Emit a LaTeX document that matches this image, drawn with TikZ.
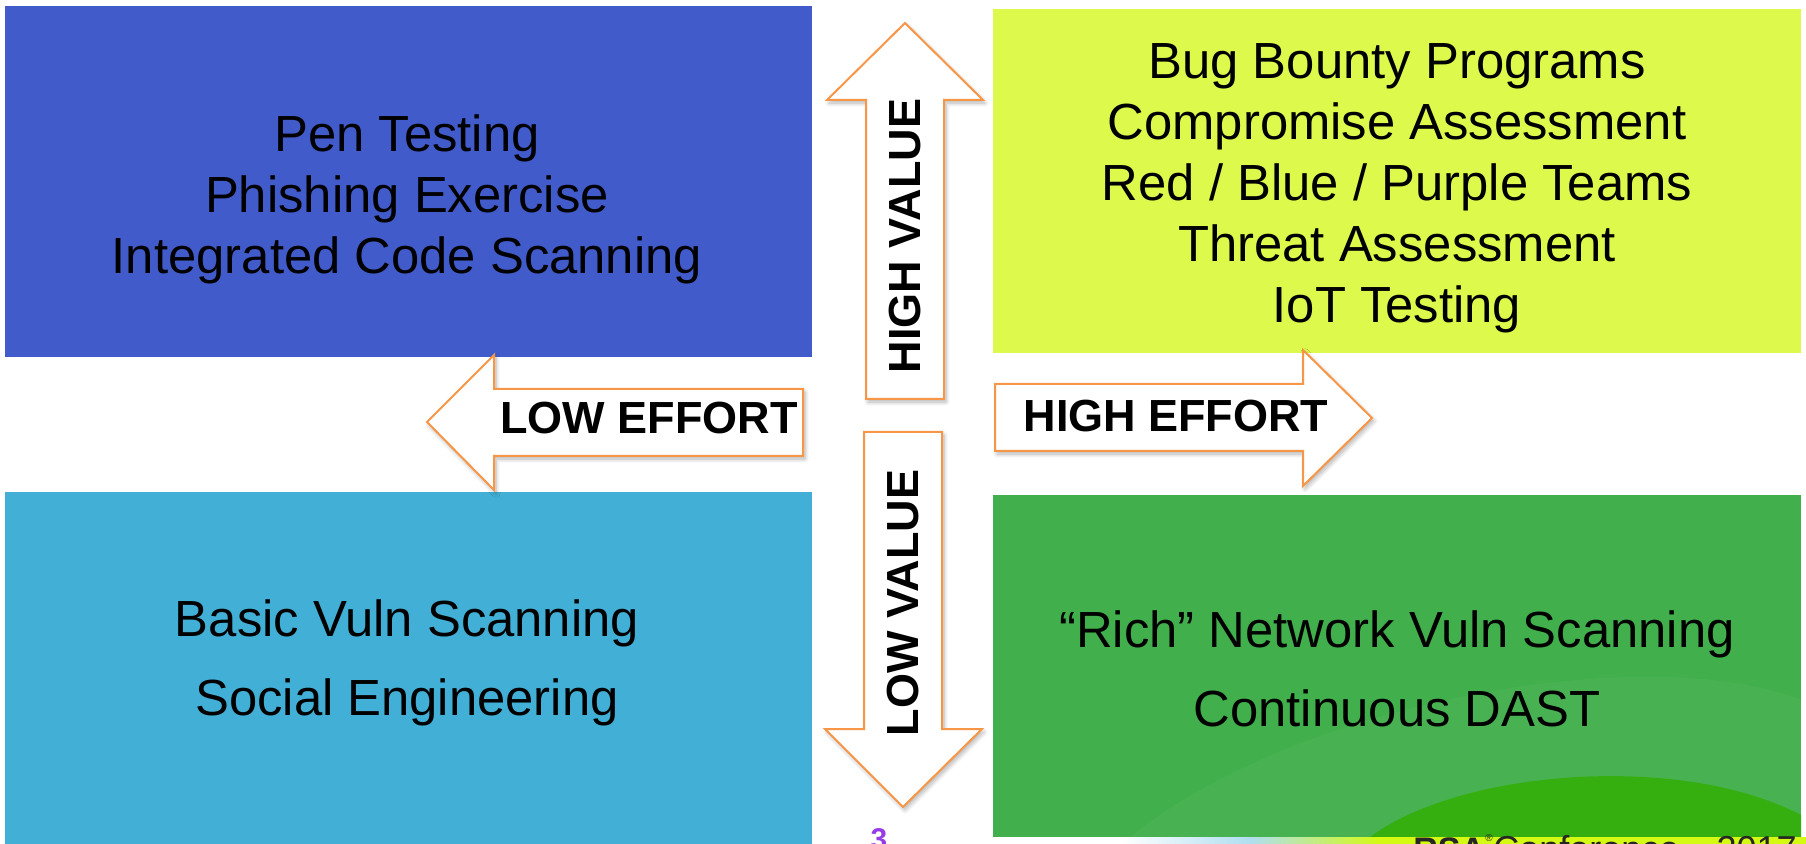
\documentclass[tikz,border=0pt]{standalone}
\usepackage{fontspec}
\setmainfont{Liberation Sans}
\usetikzlibrary{shadows.blur}

\definecolor{quadblue}{RGB}{65,91,203}
\definecolor{quadsky}{RGB}{66,176,214}
\definecolor{quadlime}{RGB}{221,250,76}
\definecolor{quadgreen}{RGB}{65,175,75}
\definecolor{swoosh}{RGB}{53,174,16}
\definecolor{stripsky}{RGB}{176,222,240}
\definecolor{striplime}{RGB}{212,250,20}
\definecolor{arroworange}{RGB}{247,150,70}
\definecolor{pagenum}{RGB}{150,60,230}

\begin{document}
\begin{tikzpicture}[x=0.5pt,y=-0.5pt,
    boxtext/.style={align=center,font=\fontsize{25.4}{30.5}\selectfont},
    axistext/.style={font=\bfseries\fontsize{22.5}{27}\selectfont,inner sep=0pt},
    logotext/.style={inner sep=0pt,anchor=base west,text=black!85,font=\fontsize{18}{22}\selectfont},
    blockarrow/.style={draw=arroworange,line width=1pt,fill=white,
      blur shadow={shadow xshift=1pt,shadow yshift=-1.5pt,shadow blur steps=8,shadow opacity=30}}]
  \useasboundingbox (0,0) rectangle (1806,844);

  % the four quadrants
  \fill[quadblue]  (5,6)    rectangle (812,357);
  \fill[quadsky]   (5,492)  rectangle (812,844);
  \fill[quadlime]  (993,9)  rectangle (1801,353);
  \fill[quadgreen] (993,495) rectangle (1801,837);

  % template swoosh in the lower right
  \begin{scope}
    \clip (993,495) rectangle (1801,837);
    \fill[white,opacity=0.04] (1130,837) .. controls (1300,700) and (1650,640) .. (1801,700) -- (1801,837) -- cycle;
    \fill[swoosh] (1370,837) .. controls (1460,770) and (1680,752) .. (1801,815) -- (1801,837) -- cycle;
  \end{scope}
  \shade[left color=white,right color=stripsky] (1120,837) rectangle (1250,844);
  \shade[left color=stripsky,right color=striplime] (1250,837) rectangle (1380,844);
  \fill[striplime] (1380,837) rectangle (1806,844);

  % block arrows
  \draw[blockarrow] (905,23) -- (983,100) -- (944,100) -- (944,399) -- (866,399) -- (866,100) -- (827,100) -- cycle;
  \draw[blockarrow] (903,807) -- (982,729) -- (942,729) -- (942,432) -- (864,432) -- (864,729) -- (825,729) -- cycle;
  \draw[blockarrow] (427,422) -- (494,355) -- (494,389) -- (803,389) -- (803,456) -- (494,456) -- (494,490) -- cycle;
  \draw[blockarrow] (1372,418) -- (1303,350) -- (1303,384) -- (995,384) -- (995,451) -- (1303,451) -- (1303,486) -- cycle;

  \node[axistext,rotate=90] (hival) at (905,236) {HIGH VALUE};
  \node[axistext,rotate=90] (loval) at (903,603) {LOW VALUE};
  \node[axistext] (loeff) at (649,418) {LOW EFFORT};
  \node[axistext] (hieff) at (1176,416) {HIGH EFFORT};

  % quadrant contents
  \node[boxtext] (lohi) at (407,199) {Pen Testing\\Phishing Exercise\\Integrated Code Scanning};
  \node[boxtext] (hihi) at (1397,188) {Bug Bounty Programs\\Compromise Assessment\\Red / Blue / Purple Teams\\Threat Assessment\\IoT Testing};
  \node[boxtext,font=\fontsize{25.4}{39.5}\selectfont] (lolo) at (407,663) {Basic Vuln Scanning\\Social Engineering};
  \node[boxtext,font=\fontsize{25.4}{39.5}\selectfont] (hilo) at (1397,669) {“Rich” Network Vuln Scanning\\Continuous DAST};

  % footer: slide number and conference logo
  \node[anchor=north,inner sep=0pt,text=pagenum,font=\bfseries\fontsize{15}{18}\selectfont] (page) at (879,828) {3};
  \node[logotext,font=\bfseries\fontsize{17}{20}\selectfont] (rsa) at (1413,861) {RSA};
  \node[inner sep=0pt,text=black!85,font=\fontsize{5}{6}\selectfont] (reg) at (1489,838) {®};
  \node[logotext] (conf) at (1493,861) {Conference};
  \node[logotext,anchor=base east] (year) at (1797,861) {2017};
\end{tikzpicture}
\end{document}
